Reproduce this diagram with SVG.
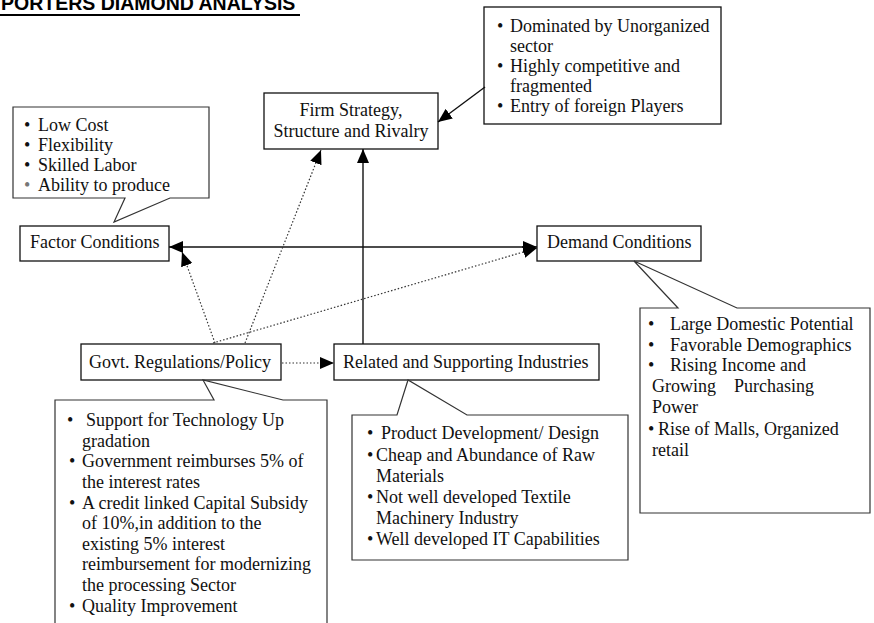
<svg xmlns="http://www.w3.org/2000/svg" width="874" height="623" viewBox="0 0 874 623">
<style>
.t{font-family:"Liberation Serif","Times New Roman",serif;font-size:18px;fill:#111}
.box{fill:#fff;stroke:#111;stroke-width:1.3}
.call{fill:#fff;stroke:#333;stroke-width:1.2}
.solid{stroke:#111;stroke-width:1.4;fill:none}
.dot{stroke:#333;stroke-width:1.2;fill:none;stroke-dasharray:1.5 2}
</style>
<defs>
<marker id="ah" viewBox="0 0 14 12" refX="14" refY="6" markerWidth="14" markerHeight="12" markerUnits="userSpaceOnUse" orient="auto-start-reverse">
<path d="M0,0 L14,6 L0,12 Z" fill="#000"/>
</marker>
</defs>
<rect width="874" height="623" fill="#fff"/>
<g id="title">
<text x="1" y="10" style="font-family:'Liberation Sans',Arial,sans-serif;font-weight:bold;font-size:19.5px" fill="#000">PORTERS DIAMOND ANALYSIS</text>
<line x1="0" y1="15" x2="300" y2="15" stroke="#000" stroke-width="2"/>
</g>
<g id="rivalry-notes">
<rect class="box" x="484" y="7" width="237" height="117"/>
<text class="t"><tspan x="497" y="32">•</tspan><tspan x="510" y="32">Dominated by Unorganized</tspan><tspan x="510" y="52">sector</tspan><tspan x="497" y="72">•</tspan><tspan x="510" y="72">Highly competitive and</tspan><tspan x="510" y="91.5">fragmented</tspan><tspan x="497" y="111.5">•</tspan><tspan x="510" y="111.5">Entry of foreign Players</tspan></text>
</g>
<g id="firm">
<rect class="box" x="264" y="93" width="174" height="56"/>
<text class="t" text-anchor="middle"><tspan x="351" y="116">Firm Strategy,</tspan><tspan x="351" y="137">Structure and Rivalry</tspan></text>
</g>
<g id="factor-notes">
<path class="call" d="M13,107 H209 V198 H170 L114,222 L125,198 H13 Z"/>
<text class="t"><tspan x="24" y="131">•</tspan><tspan x="38" y="131">Low Cost</tspan><tspan x="24" y="151">•</tspan><tspan x="38" y="151">Flexibility</tspan><tspan x="24" y="171">•</tspan><tspan x="38" y="171">Skilled Labor</tspan><tspan x="24" y="191" fill="#777">•</tspan><tspan x="38" y="191">Ability to produce</tspan></text>
</g>
<g id="factor">
<rect class="box" x="20" y="226" width="149" height="35"/>
<text class="t" x="30" y="248">Factor Conditions</text>
</g>
<g id="demand">
<rect class="box" x="537" y="226" width="164" height="35"/>
<text class="t" x="547" y="248">Demand Conditions</text>
</g>
<g id="demand-notes">
<path class="call" d="M640,308 H678 L634,261 L737,308 H870 V513 H640 Z"/>
<text class="t"><tspan x="648" y="330">•</tspan><tspan x="670" y="330">Large Domestic Potential</tspan><tspan x="648" y="351">•</tspan><tspan x="670" y="351">Favorable Demographics</tspan><tspan x="648" y="371">•</tspan><tspan x="670" y="371">Rising Income and</tspan><tspan x="652" y="392">Growing&#160;&#160;&#160; Purchasing</tspan><tspan x="652" y="413">Power</tspan><tspan x="648" y="435">•</tspan><tspan x="658" y="435">Rise of Malls, Organized</tspan><tspan x="652" y="456">retail</tspan></text>
</g>
<g id="govt">
<rect class="box" x="81" y="344" width="200" height="36"/>
<text class="t" x="89" y="368">Govt. Regulations/Policy</text>
</g>
<g id="related">
<rect class="box" x="334" y="344" width="265" height="36"/>
<text class="t" x="343" y="368">Related and Supporting Industries</text>
</g>
<g id="govt-notes">
<path class="call" d="M55,400 H214 L203,380 L283,400 H327 V640 H55 Z"/>
<text class="t"><tspan x="67" y="426">•</tspan><tspan x="86" y="426">Support for Technology Up</tspan><tspan x="82" y="447">gradation</tspan><tspan x="69" y="467">•</tspan><tspan x="82" y="467">Government reimburses 5% of</tspan><tspan x="82" y="488">the interest rates</tspan><tspan x="69" y="509">•</tspan><tspan x="82" y="509">A credit linked Capital Subsidy</tspan><tspan x="82" y="529">of 10%,in addition to the</tspan><tspan x="82" y="550">existing 5% interest</tspan><tspan x="82" y="570">reimbursement for modernizing</tspan><tspan x="82" y="591">the processing Sector</tspan><tspan x="69" y="612">•</tspan><tspan x="82" y="612">Quality Improvement</tspan></text>
</g>
<g id="related-notes">
<path class="call" d="M352,415 H397 L408,380 L467,415 H628 V560 H352 Z"/>
<text class="t"><tspan x="367" y="439">•</tspan><tspan x="381" y="439">Product Development/ Design</tspan><tspan x="367" y="461">•</tspan><tspan x="376" y="461">Cheap and Abundance of Raw</tspan><tspan x="376" y="482">Materials</tspan><tspan x="367" y="503">•</tspan><tspan x="376" y="503">Not well developed Textile</tspan><tspan x="376" y="524">Machinery Industry</tspan><tspan x="367" y="545">•</tspan><tspan x="376" y="545">Well developed IT Capabilities</tspan></text>
</g>
<g id="connectors">
<line class="solid" x1="485" y1="87" x2="438" y2="122" marker-end="url(#ah)"/>
<line class="solid" x1="363" y1="344" x2="363" y2="149" marker-end="url(#ah)"/>
<line class="solid" x1="169" y1="247" x2="537" y2="247" marker-start="url(#ah)" marker-end="url(#ah)"/>
<line class="dot" x1="215" y1="343" x2="182" y2="252" marker-end="url(#ah)"/>
<line class="dot" x1="245" y1="343" x2="321" y2="150" marker-end="url(#ah)"/>
<line class="dot" x1="213" y1="343" x2="537" y2="248" marker-end="url(#ah)"/>
<line class="dot" x1="282" y1="363" x2="334" y2="363" marker-end="url(#ah)"/>
</g>
</svg>
